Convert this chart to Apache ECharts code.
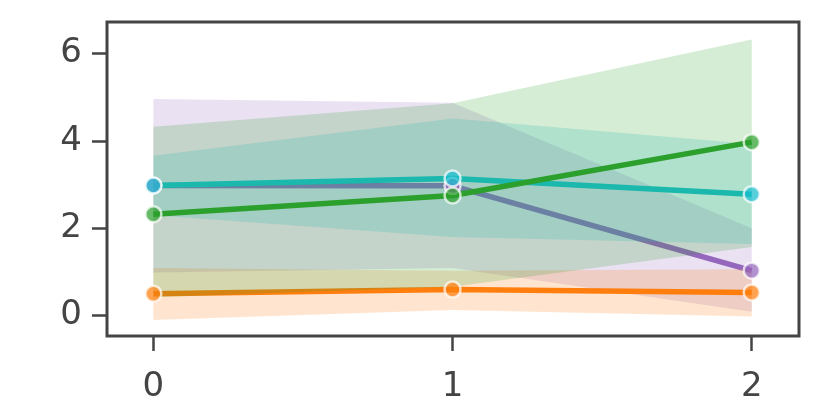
<!DOCTYPE html>
<html><head><meta charset="utf-8">
<script src="https://cdn.jsdelivr.net/npm/echarts@6/dist/echarts.min.js"></script>
<style>html,body{margin:0;padding:0;background:#fff}#c{width:820px;height:420px}</style>
</head><body><div id="c"></div>
<script>
const xs = [0, 1, 2];
const xTicks = [0, 1, 2];
const yTicks = [0, 2, 4, 6];

const purpleMean = [2.98, 2.97, 1.03];
const purpleLo   = [0.99, 1.09, 0.09];
const purpleHi   = [4.96, 4.87, 2.00];

const orangeMean = [0.50, 0.60, 0.53];
const orangeLo   = [-0.10, 0.13, -0.02];
const orangeHi   = [1.09, 1.03, 1.06];

const cyanMean = [2.98, 3.14, 2.78];
const cyanLo   = [2.30, 1.80, 1.64];
const cyanHi   = [3.66, 4.51, 3.93];

const greenMean = [2.32, 2.75, 3.97];
const greenLo   = [0.42, 0.66, 1.57];
const greenHi   = [4.32, 4.86, 6.32];

const groups = [
  {color: '#9467bd', mean: purpleMean, lo: purpleLo, hi: purpleHi},
  {color: '#ff7f0e', mean: orangeMean, lo: orangeLo, hi: orangeHi},
  {color: '#17becf', mean: cyanMean, lo: cyanLo, hi: cyanHi},
  {color: '#2ca02c', mean: greenMean, lo: greenLo, hi: greenHi}
];

function hexA(hex, a) {
  const n = parseInt(hex.slice(1), 16);
  return 'rgba(' + ((n >> 16) & 255) + ',' + ((n >> 8) & 255) + ',' + (n & 255) + ',' + a + ')';
}

const series = [];
groups.forEach((g, k) => {
  series.push({
    type: 'line', z: 1 + 2 * k, silent: true, animation: false,
    showSymbol: false, symbol: 'none',
    data: xs.map((x, i) => [x, g.mean[i]]),
    lineStyle: {color: g.color, width: 5.5}
  });
  series.push({
    type: 'custom', z: 2 + 2 * k, silent: true, animation: false,
    data: xs.map((x, i) => [x, g.lo[i], g.hi[i]]),
    encode: {x: 0, y: [1, 2]},
    renderItem: function (params, api) {
      if (params.dataIndex !== 0) return null;
      const pts = [];
      for (let i = 0; i < xs.length; i++) pts.push(api.coord([xs[i], g.hi[i]]));
      for (let i = xs.length - 1; i >= 0; i--) pts.push(api.coord([xs[i], g.lo[i]]));
      return {type: 'polygon', shape: {points: pts}, style: {fill: hexA(g.color, 0.2)}};
    }
  });
});
groups.forEach((g, k) => {
  series.push({
    type: 'scatter', z: 20 + k, silent: true, animation: false,
    symbol: 'circle', symbolSize: 16,
    data: xs.map((x, i) => [x, g.mean[i]]),
    itemStyle: {color: g.color, opacity: 0.72, borderColor: '#ffffff', borderWidth: 2.5}
  });
});

const chart = echarts.init(document.getElementById('c'), null, {renderer: 'canvas'});
const labelStyle = {color: '#444', fontFamily: 'DejaVu Sans', fontSize: 34};
chart.setOption({
  animation: false,
  backgroundColor: '#fff',
  grid: {left: 107, right: 21, top: 22, bottom: 84, show: true, borderColor: '#444', borderWidth: 3, backgroundColor: 'transparent'},
  xAxis: {
    type: 'value', min: -0.155, max: 2.158,
    axisLine: {show: false, onZero: false},
    splitLine: {show: false},
    axisTick: {show: true, length: 15, inside: false, customValues: xTicks, lineStyle: {color: '#444', width: 2.5}},
    axisLabel: Object.assign({customValues: xTicks, margin: 34, formatter: v => String(v)}, labelStyle)
  },
  yAxis: {
    type: 'value', min: -0.466, max: 6.72,
    axisLine: {show: false, onZero: false},
    splitLine: {show: false},
    axisTick: {show: true, length: 15, inside: false, customValues: yTicks, lineStyle: {color: '#444', width: 2.5}},
    axisLabel: Object.assign({customValues: yTicks, margin: 25, formatter: v => String(v)}, labelStyle)
  },
  series: series
});
</script>
</body></html>
